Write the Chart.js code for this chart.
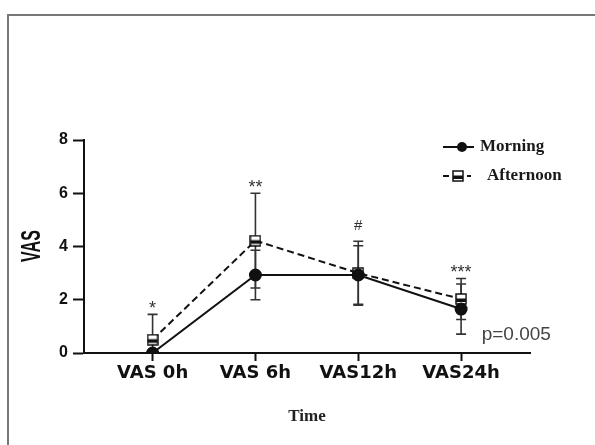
<!DOCTYPE html>
<html>
<head>
<meta charset="utf-8">
<script src="https://cdn.jsdelivr.net/npm/chart.js@4.4.1/dist/chart.umd.min.js"></script>
<style>
  html, body { margin: 0; padding: 0; background: #fff; overflow: hidden; }
  #frame { position: absolute; left: 7px; top: 14px; width: 700px; height: 500px;
           border-left: 2px solid #777; border-top: 2px solid #777; }
  #chart { position: absolute; left: 0; top: 0; }
</style>
</head>
<body>
<div id="frame"></div>
<canvas id="chart" width="595" height="445"></canvas>
<script>
// data
var timeLabels = ['VAS 0h', 'VAS 6h', 'VAS12h', 'VAS24h'];
var morning = [0, 2.93, 2.93, 1.65];
var afternoon = [0.5, 4.22, 3.0, 2.03];
var morningSD = [0, 0.93, 1.1, 0.94];
var afternoonSD = [0.95, 1.78, 1.2, 0.77];
var sigMarks = ['*', '**', '#', '***'];
var pText = 'p=0.005';
var yTicks = [0, 2, 4, 6, 8];

// half filled square used for the afternoon points
function squareMarker() {
  var c = document.createElement('canvas');
  c.width = 12; c.height = 12;
  var g = c.getContext('2d');
  g.fillStyle = '#fff';
  g.fillRect(1, 1, 10, 10);
  g.fillStyle = '#111';
  g.fillRect(1, 5.5, 10, 3.5);
  g.strokeStyle = '#111';
  g.lineWidth = 1.5;
  g.strokeRect(1, 1, 10, 10);
  return c;
}
var sq = squareMarker();

function toPoints(arr) {
  return arr.map(function (v, i) { return {x: i, y: v}; });
}

var errorBars = {
  id: 'errorBars',
  beforeDatasetsDraw: function (chart) {
    var ctx = chart.ctx, xs = chart.scales.x, ys = chart.scales.y;
    var sets = [[morning, morningSD], [afternoon, afternoonSD]];
    ctx.save();
    ctx.strokeStyle = '#333';
    ctx.lineWidth = 1.6;
    sets.forEach(function (s) {
      s[0].forEach(function (v, i) {
        if (!s[1][i]) return;
        var x = xs.getPixelForValue(i);
        var hi = ys.getPixelForValue(v + s[1][i]);
        var loV = v - s[1][i];
        var lo = ys.getPixelForValue(Math.max(0, loV));
        ctx.beginPath();
        ctx.moveTo(x, hi); ctx.lineTo(x, lo);
        ctx.moveTo(x - 5, hi); ctx.lineTo(x + 5, hi);
        if (loV > 0) { ctx.moveTo(x - 5, lo); ctx.lineTo(x + 5, lo); }
        ctx.stroke();
      });
    });
    ctx.restore();
  },
  afterDatasetsDraw: function (chart) {
    var ctx = chart.ctx, xs = chart.scales.x, ys = chart.scales.y;
    ctx.save();
    // significance marks above the highest cap
    ctx.fillStyle = '#333';
    ctx.textAlign = 'center';
    ctx.textBaseline = 'alphabetic';
    sigMarks.forEach(function (m, i) {
      var top = Math.max(morning[i] + morningSD[i], afternoon[i] + afternoonSD[i]);
      ctx.font = (m == '#' ? '15px' : '18px') + ' "Liberation Sans", Arial, sans-serif';
      var y = ys.getPixelForValue(top) - (m == '#' ? 11 : 0);
      ctx.fillText(m, xs.getPixelForValue(i), y);
    });
    // p value
    ctx.fillStyle = '#444';
    ctx.font = '19px "Liberation Sans", Arial, sans-serif';
    ctx.textAlign = 'left';
    ctx.fillText(pText, xs.getPixelForValue(3.2), ys.getPixelForValue(0.48));

    // y axis title, narrow like the original
    ctx.fillStyle = '#111';
    ctx.font = 'bold 22px "Liberation Sans", Arial, sans-serif';
    ctx.translate(32, 246);
    ctx.rotate(-Math.PI / 2);
    ctx.scale(0.73, 1.27);
    ctx.textAlign = 'center';
    ctx.textBaseline = 'middle';
    ctx.fillText('VAS', 0, 0);
    ctx.restore();

    // legend
    ctx.save();
    ctx.strokeStyle = '#111';
    ctx.fillStyle = '#111';
    ctx.lineWidth = 2;
    ctx.beginPath(); ctx.moveTo(443, 147); ctx.lineTo(474, 147); ctx.stroke();
    ctx.beginPath(); ctx.arc(462, 147, 5, 0, Math.PI * 2); ctx.fill();
    ctx.beginPath(); ctx.moveTo(443, 176); ctx.lineTo(449, 176); ctx.stroke();
    ctx.beginPath(); ctx.moveTo(467, 176); ctx.lineTo(471, 176); ctx.stroke();
    ctx.drawImage(sq, 452, 170);
    ctx.fillStyle = '#1a1a1a';
    ctx.font = 'bold 17px "Liberation Serif", "Times New Roman", serif';
    ctx.textBaseline = 'middle';
    ctx.fillText(chart.data.datasets[0].label, 480, 147);
    ctx.fillText(chart.data.datasets[1].label, 487, 176);
    ctx.restore();
  }
};

var ctx = document.getElementById('chart').getContext('2d');
var myChart = new Chart(ctx, {
  type: 'line',
  data: {
    datasets: [
      {
        label: 'Morning',
        data: toPoints(morning),
        borderColor: '#111',
        backgroundColor: '#111',
        borderWidth: 2,
        pointStyle: 'circle',
        pointRadius: 5.5,
        pointBackgroundColor: '#111',
        pointBorderColor: '#111'
      },
      {
        label: 'Afternoon',
        data: toPoints(afternoon),
        borderColor: '#111',
        borderWidth: 2,
        borderDash: [7, 4],
        pointStyle: sq
      }
    ]
  },
  options: {
    responsive: false,
    animation: false,
    layout: {
      padding: {top: 140, right: 65, left: 0, bottom: 0}
    },
    plugins: {
      legend: {display: false},
      tooltip: {enabled: false}
    },
    scales: {
      x: {
        type: 'linear',
        min: -0.667,
        max: 3.67,
        afterBuildTicks: function (scale) {
          scale.ticks = timeLabels.map(function (l, i) { return {value: i}; });
        },
        afterFit: function (scale) { scale.height = 92; },
        border: {display: true, color: '#111', width: 2},
        grid: {drawOnChartArea: false, drawTicks: true, tickLength: 8, tickColor: '#111', tickWidth: 2},
        ticks: {
          color: '#111',
          padding: 2,
          maxRotation: 0,
          autoSkip: false,
          font: {family: '"DejaVu Sans", sans-serif', weight: 'bold', size: 18},
          callback: function (v) { return timeLabels[v]; }
        },
        title: {
          display: true,
          text: 'Time',
          color: '#222',
          font: {family: '"Liberation Serif", "Times New Roman", serif', weight: 'bold', size: 17},
          padding: {top: 0, bottom: 18}
        }
      },
      y: {
        min: 0,
        max: 8,
        afterBuildTicks: function (scale) {
          scale.ticks = yTicks.map(function (v) { return {value: v}; });
        },
        afterFit: function (scale) { scale.width = 84; },
        border: {display: true, color: '#111', width: 2},
        grid: {drawOnChartArea: false, drawTicks: true, tickLength: 11, tickColor: '#111', tickWidth: 2},
        ticks: {
          color: '#111',
          padding: 5,
          font: {family: '"Liberation Sans", Arial, sans-serif', weight: 'bold', size: 16}
        }
      }
    }
  },
  plugins: [errorBars]
});
</script>
</body>
</html>
